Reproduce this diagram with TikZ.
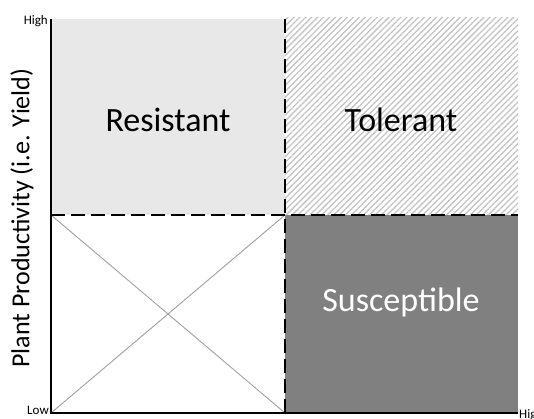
\documentclass[tikz,border=0pt]{standalone}
\usepackage{fontspec}
\setmainfont{Carlito}
\usetikzlibrary{patterns.meta}
\definecolor{lightq}{HTML}{E8E8E8}
\definecolor{darkq}{HTML}{808080}
\definecolor{hatchc}{HTML}{C4C4C4}
\definecolor{crossc}{HTML}{A0A0A0}
\tikzset{
  quadlabel/.style={font=\fontsize{34}{34}\selectfont, inner sep=0pt},
  cornerlabel/.style={font=\fontsize{13}{13}\selectfont, inner sep=0pt},
  divider/.style={line width=2.4pt, dash pattern=on 14pt off 6pt},
  axisline/.style={line width=2.6pt},
  crossline/.style={crossc, line width=0.9pt},
}
\begin{document}
\begin{tikzpicture}[x=1pt,y=-1pt]
\useasboundingbox (0,0) rectangle (534,418);
% key coordinates
\coordinate (O) at (51,413);
\coordinate (T) at (51,19);
\coordinate (R) at (518,413);
\coordinate (MT) at (285,19);
\coordinate (MB) at (285,413);
\coordinate (ML) at (51,215);
\coordinate (MR) at (518,215);
\coordinate (C) at (285,215);
% quadrants
\fill[lightq] (T) rectangle (C);
\fill[pattern={Lines[angle=45,distance=4.2pt,line width=1.3pt]}, pattern color=hatchc] (285,17) rectangle (MR);
\fill[darkq] (C) rectangle (R);
% cross in low/low quadrant
\draw[crossline] (ML) -- (MB);
\draw[crossline] (O) -- (C);
% dividers
\draw[divider] (MT) -- (MB);
\draw[divider] (ML) -- (MR);
% axes
\draw[axisline] (T) -- (O) -- (R);
% labels
\node[quadlabel] (res) at (168,120) {Resistant};
\node[quadlabel] (tol) at (401,120) {Tolerant};
\node[quadlabel, text=white] (sus) at (401,302) {Susceptible};
\node[font=\fontsize{26}{26}\selectfont, rotate=90, inner sep=0pt] (ylab) at (22,218) {Plant Productivity (i.e. Yield)};
\node[cornerlabel, anchor=east] (high) at (48,21) {High};
\node[cornerlabel, anchor=east] (low) at (49,410) {Low};
\node[cornerlabel, anchor=west] (highx) at (519,415) {High};
\end{tikzpicture}
\end{document}
